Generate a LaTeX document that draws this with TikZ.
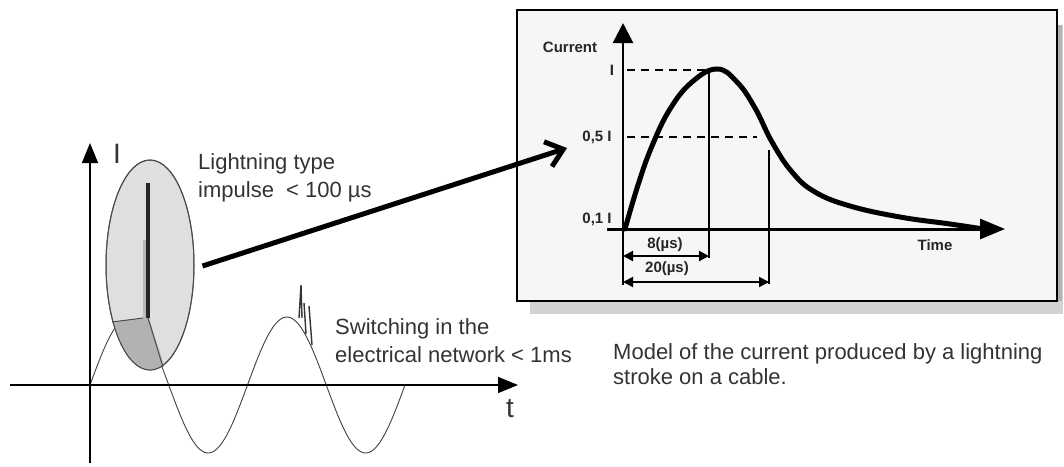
\documentclass[tikz,border=0pt]{standalone}
\usepackage{fontspec}
\setmainfont{Liberation Sans}
\usetikzlibrary{positioning,shapes.geometric,arrows.meta,calc}

\begin{document}
\begin{tikzpicture}[
  x=1pt, y=-1pt,
  txt/.style      = {font=\fontsize{22}{28}\selectfont, align=left,
                     inner sep=0pt, text=black!80},
  axlbl/.style    = {font=\fontsize{28}{30}\selectfont, inner sep=0pt, text=black!80},
  chartlbl/.style = {font=\fontsize{15}{17}\selectfont\bfseries,
                     inner sep=0pt, text=black!85},
  axis/.style     = {-{Triangle[length=20pt,width=16pt]}, line width=1.4pt},
  wave/.style     = {line width=0.9pt, black!75},
  guide/.style    = {dash pattern=on 8pt off 6pt, line width=1.1pt},
  span/.style     = {{Triangle[length=10pt,width=10pt]}-{Triangle[length=10pt,width=10pt]},
                     line width=2pt},
  burststyle/.style = {ellipse, draw=black!70, line width=1pt, fill=gray!25,
                     minimum width=88pt, minimum height=210pt, inner sep=0pt},
]
\useasboundingbox (0,0) rectangle (1064,466);

% model of the stroke current
\fill[gray!35] (530,25) rectangle (1063,314);
\fill[gray!60] (1057,25) rectangle (1062,301);
\draw[line width=1.5pt, fill=gray!7] (517,10) rectangle (1057,301);
\coordinate (O) at (623,229);
\draw[guide] (627,70) -- (717,70);
\draw[guide] (627,137) -- (757,137);
\draw[line width=1.2pt] (709,70) -- (709,258);
\draw[line width=1.2pt] (769,150) -- (769,284);
\draw[line width=1.2pt] (O) -- (623,285);
\draw[line width=2.5pt, -{Triangle[length=20pt,width=20pt]}] (O) -- (623,23);
\draw[line width=3pt, -{Triangle[length=25pt,width=20pt]}] (607,229) -- (1005,229);
\draw[line width=5pt, line cap=round] plot[smooth, tension=0.7] coordinates
  {(625,229) (638,185) (652,146) (670,109) (692,82) (717,69) (737,82) (755,108)
   (772,142) (792,172) (815,192) (850,206) (900,217) (950,224) (990,230)};
\draw[span] (O |- 0,256) -- (709,256);
\draw[span] (O |- 0,282) -- (769,282);
\node[chartlbl] (cur)    at (570,47)  {Current};
\node[chartlbl] (lvpeak) at (612,70)  {I};
\node[chartlbl] (lvhalf) at (597,137) {0,5 I};
\node[chartlbl] (lvlow)  at (597,219) {0,1 I};
\node[chartlbl] (rise)   at (665,245) {8(µs)};
\node[chartlbl] (decay)  at (667,269) {20(µs)};
\node[chartlbl] (tm)     at (935,245) {Time};

% network current
\draw[wave] plot[domain=90:405, samples=160] (\x, {385-68*sin(2.2857*(\x-90))});
\draw[line width=1.4pt, black!80]
  (299,318) -- (301,285) -- (302,318) (304,303) -- (306,334) (309,306) -- (312,345);
\draw[axis] (10,385) -- (518,385);
\draw[axis] (90,463) -- (90,143);
\node[axlbl] (ilbl) at (117,154) {I};
\node[axlbl] (tlbl) at (510,409) {t};

\node[burststyle] (burst) at (150,265) {};
\begin{scope}
  \clip (150,265) ellipse [x radius=44pt, y radius=105pt];
  \fill[gray!60] (95,335) -- (112,322) -- (143,318) -- (149,318) -- (170,385)
    -- (95,385) -- cycle;
\end{scope}
\fill[gray!55] (143,240) rectangle (147,318);
\draw[line width=3.5pt, black!85] (148,183) -- (148,318);
\draw[black!70, line width=1pt] (112,322) -- (143,318) (148,318) -- (163,367);
\draw[black!70, line width=1pt] (150,265) ellipse [x radius=44pt, y radius=105pt];

\coordinate (hit) at (567,148);
\draw[line width=5pt, -{Straight Barb[length=16pt,width=26pt]}]
  ($(burst.east)+(8,1)$) -- (hit);

\node[txt, anchor=north west] (impulse) at (198,153) {Lightning type\\impulse\ \ < 100 µs};
\node[txt, anchor=north west] (switching) at (335,318) {Switching in the\\electrical network < 1ms};
\node[txt, anchor=north west, font=\fontsize{22}{25}\selectfont] (caption) at (613,343)
  {Model of the current produced by a lightning\\stroke on a cable.};
\end{tikzpicture}
\end{document}
